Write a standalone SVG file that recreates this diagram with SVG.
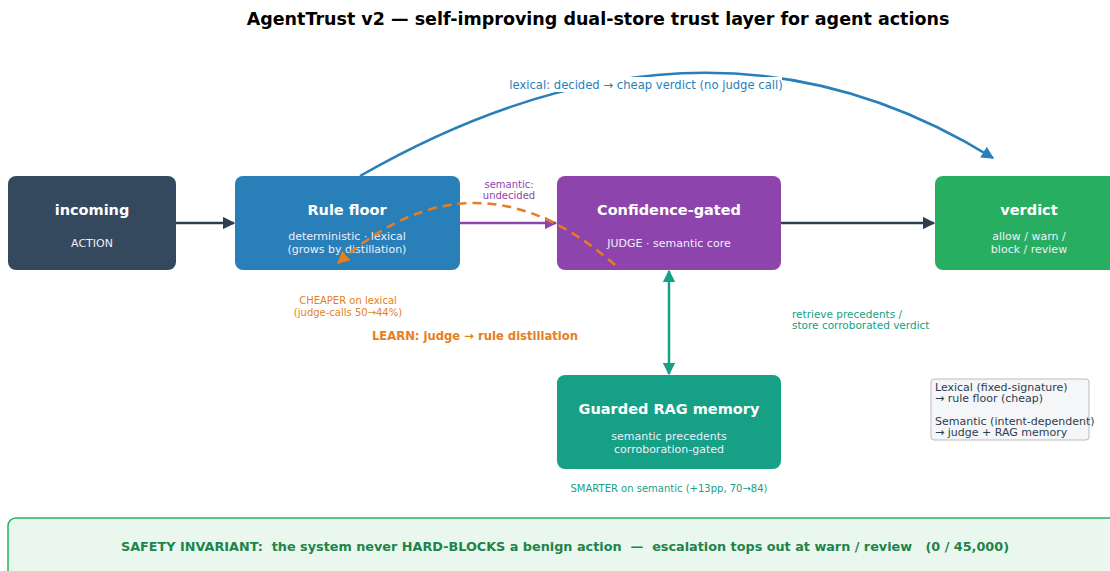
<svg xmlns="http://www.w3.org/2000/svg" width="1110" height="571" viewBox="0 0 1110 571">
<style>
text{font-family:"DejaVu Sans","Liberation Sans",sans-serif}
.t{font-size:14.5px;font-weight:bold;fill:#fff;text-anchor:middle}
.s{font-size:11px;fill:#eef;text-anchor:middle}
.box{stroke:none}
</style>
<defs>
<marker id="ad" viewBox="0 0 10 10" refX="9" refY="5" markerWidth="5" markerHeight="5" orient="auto-start-reverse"><path d="M0,0L10,5L0,10z" fill="#2c3e50"/></marker>
<marker id="ap" viewBox="0 0 10 10" refX="9" refY="5" markerWidth="5" markerHeight="5" orient="auto"><path d="M0,0L10,5L0,10z" fill="#8e44ad"/></marker>
<marker id="at" viewBox="0 0 10 10" refX="9" refY="5" markerWidth="5" markerHeight="5" orient="auto-start-reverse"><path d="M0,0L10,5L0,10z" fill="#16a085"/></marker>
<marker id="ab" viewBox="0 0 10 10" refX="9" refY="5" markerWidth="5" markerHeight="5" orient="auto"><path d="M0,0L10,5L0,10z" fill="#2980b9"/></marker>
<marker id="ao" viewBox="0 0 10 10" refX="9" refY="5" markerWidth="5" markerHeight="5" orient="auto"><path d="M0,0L10,5L0,10z" fill="#e67e22"/></marker>
</defs>
<rect width="1110" height="571" fill="#fff"/>
<text x="598" y="25" font-size="17.5" font-weight="bold" text-anchor="middle" fill="#000">AgentTrust v2 — self-improving dual-store trust layer for agent actions</text>

<g id="footer">
<rect x="8" y="518" width="1120" height="70" rx="8" fill="#e9f7ef" stroke="#27ae60" stroke-width="1.5"/>
<text x="565" y="551" font-size="12.8" font-weight="bold" text-anchor="middle" fill="#1e8449" style="white-space:pre" xml:space="preserve">SAFETY INVARIANT:  the system never HARD-BLOCKS a benign action  —  escalation tops out at warn / review   (0 / 45,000)</text>
</g>

<g id="node-incoming">
<rect class="box" x="8" y="176" width="168" height="94" rx="8" fill="#34495e"/>
<text class="t" x="92" y="215">incoming</text>
<text class="s" x="92" y="247">ACTION</text>
</g>
<g id="node-rule">
<rect class="box" x="235" y="176" width="225" height="94" rx="8" fill="#2980b9"/>
<text class="t" x="347" y="215">Rule floor</text>
<text class="s" x="347" y="240">deterministic · lexical</text>
<text class="s" x="347" y="253">(grows by distillation)</text>
</g>
<g id="node-judge">
<rect class="box" x="557" y="176" width="224" height="94" rx="8" fill="#8e44ad"/>
<text class="t" x="669" y="215">Confidence-gated</text>
<text class="s" x="669" y="247">JUDGE · semantic core</text>
</g>
<g id="node-verdict">
<rect class="box" x="935" y="176" width="188" height="94" rx="8" fill="#27ae60"/>
<text class="t" x="1029" y="215">verdict</text>
<text class="s" x="1029" y="240">allow / warn /</text>
<text class="s" x="1029" y="253">block / review</text>
</g>
<g id="node-rag">
<rect class="box" x="557" y="375" width="224" height="94" rx="8" fill="#16a085"/>
<text class="t" x="669" y="414">Guarded RAG memory</text>
<text class="s" x="669" y="440">semantic precedents</text>
<text class="s" x="669" y="453">corroboration-gated</text>
</g>
<g id="legend">
<rect x="931" y="379" width="158" height="61" rx="3" fill="#f4f6f7" stroke="#bbb"/>
<g font-size="11" fill="#2c3e50">
<text x="935" y="391">Lexical (fixed-signature)</text>
<text x="935" y="402">→ rule floor (cheap)</text>
<text x="935" y="425">Semantic (intent-dependent)</text>
<text x="935" y="436">→ judge + RAG memory</text>
</g>
</g>

<g id="connectors" fill="none">
<line x1="176" y1="223" x2="234" y2="223" stroke="#2c3e50" stroke-width="2.5" marker-end="url(#ad)"/>
<line x1="460" y1="223" x2="556" y2="223" stroke="#8e44ad" stroke-width="2.5" marker-end="url(#ap)"/>
<line x1="781" y1="223" x2="934" y2="223" stroke="#2c3e50" stroke-width="2.5" marker-end="url(#ad)"/>
<line x1="669" y1="271" x2="669" y2="374" stroke="#16a085" stroke-width="2.5" marker-start="url(#at)" marker-end="url(#at)"/>
<path d="M360,176 Q704,-21 993,158" stroke="#2980b9" stroke-width="2.5" marker-end="url(#ab)"/>
<path d="M615,265 Q475,142 338,263" stroke="#e67e22" stroke-width="2.5" stroke-dasharray="9,6" marker-end="url(#ao)"/>
</g>

<g id="labels">
<rect x="510" y="77" width="272" height="15" fill="#fff"/>
<text x="646" y="89" font-size="11.6" text-anchor="middle" fill="#2980b9">lexical: decided → cheap verdict (no judge call)</text>
<text x="509" y="188" font-size="10" text-anchor="middle" fill="#8e44ad">semantic:</text>
<text x="509" y="199" font-size="10" text-anchor="middle" fill="#8e44ad">undecided</text>
<text x="348" y="304" font-size="10" text-anchor="middle" fill="#e67e22">CHEAPER on lexical</text>
<text x="348" y="316" font-size="10" text-anchor="middle" fill="#e67e22">(judge-calls 50→44%)</text>
<text x="475" y="340" font-size="11.6" font-weight="bold" text-anchor="middle" fill="#e67e22">LEARN: judge → rule distillation</text>
<text x="792" y="318" font-size="10.5" fill="#16a085">retrieve precedents /</text>
<text x="792" y="329" font-size="10.5" fill="#16a085">store corroborated verdict</text>
<text x="669" y="492" font-size="10" text-anchor="middle" fill="#16a085">SMARTER on semantic (+13pp, 70→84)</text>
</g>
</svg>
